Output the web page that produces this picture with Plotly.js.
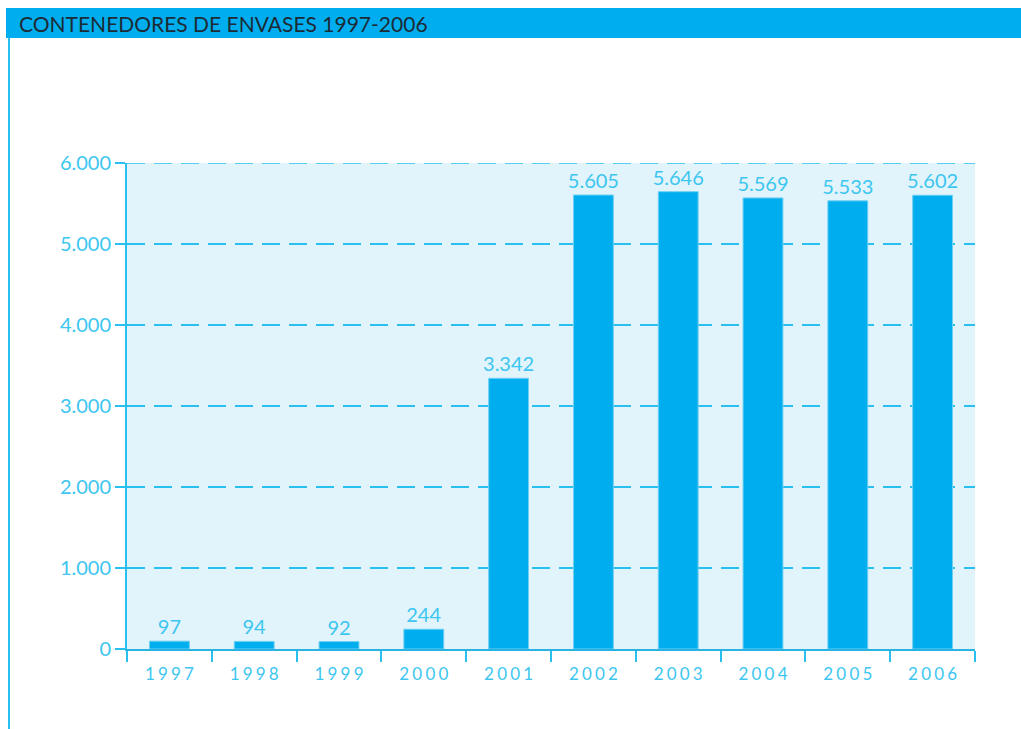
<!DOCTYPE html>
<html>
<head>
<meta charset="utf-8">
<script src="https://cdn.plot.ly/plotly-3.0.1.min.js"></script>
<style>html,body{margin:0;padding:0;background:#fff;}#chart{width:1021px;height:729px;}</style>
</head>
<body>
<div id="chart"></div>
<script>
const years = ['1997','1998','1999','2000','2001','2002','2003','2004','2005','2006'];
const contenedores = [97, 94, 92, 244, 3342, 5605, 5646, 5569, 5533, 5602];
const yTicks = [0, 1000, 2000, 3000, 4000, 5000, 6000];
const chartTitle = 'CONTENEDORES DE ENVASES 1997-2006';

const W = 1021, H = 729;
const L = 127, R = 975, T = 163, B = 649;
const px = x => (x - L) / (R - L);
const py = y => (B - y) / (B - T);

const FONT = 'Lato, "Open Sans", sans-serif';
const light = '#3cc6f0';
const gridCol = '#29bfee';
const gridDash = '18px,9px';

const trace = {
  type: 'bar',
  x: years,
  y: contenedores,
  marker: {color: '#00aeef', line: {color: '#6fd0f2', width: 1}},
  texttemplate: '%{y:,}',
  textposition: 'outside',
  constraintext: 'none',
  cliponaxis: false,
  textfont: {family: FONT, size: 20, color: light},
  hoverinfo: 'x+y'
};

const yMax = yTicks[yTicks.length - 1];

const layout = {
  width: W, height: H,
  margin: {l: L, r: W - R, t: T, b: H - B, pad: 0},
  paper_bgcolor: '#ffffff',
  plot_bgcolor: '#e2f4fb',
  separators: ',.',
  showlegend: false,
  bargap: 0.53,
  xaxis: {
    type: 'category',
    tickvals: years,
    ticktext: years.map(s => s.split('').join('\u2009\u200a')),
    tickson: 'boundaries',
    ticks: 'outside', ticklen: 11, tickwidth: 2, tickcolor: gridCol,
    ticklabelstandoff: 9,
    showline: true, linecolor: '#29b3e2', linewidth: 2,
    showgrid: false, zeroline: false,
    tickfont: {family: FONT, size: 17, color: light}
  },
  yaxis: {
    range: [0, yMax],
    tickvals: yTicks,
    tickformat: ',',
    ticks: 'outside', ticklen: 10, tickwidth: 2, tickcolor: gridCol,
    showline: true, linecolor: gridCol, linewidth: 2,
    showgrid: true, gridcolor: gridCol, gridwidth: 1.3, griddash: gridDash,
    zeroline: false,
    tickfont: {family: FONT, size: 20, color: light}
  },
  shapes: [
    {type: 'line', xref: 'paper', yref: 'y', x0: 0, x1: 1, y0: yMax, y1: yMax,
     line: {color: gridCol, width: 1.3, dash: gridDash}, layer: 'below'},
    {type: 'rect', xref: 'paper', yref: 'paper', x0: px(6), x1: px(1021), y0: py(38), y1: py(8),
     fillcolor: '#00aeef', line: {width: 0}, layer: 'above'},
    {type: 'line', xref: 'paper', yref: 'paper', x0: px(9), x1: px(9), y0: py(38), y1: py(729),
     line: {color: gridCol, width: 2}, layer: 'above'}
  ],
  annotations: [
    {xref: 'paper', yref: 'paper', x: px(17), y: py(23), xanchor: 'left', yanchor: 'middle',
     text: chartTitle, showarrow: false,
     font: {family: FONT, size: 21, color: '#1c2b36'}}
  ]
};

Plotly.newPlot('chart', [trace], layout, {displayModeBar: false, staticPlot: true});
</script>
</body>
</html>
